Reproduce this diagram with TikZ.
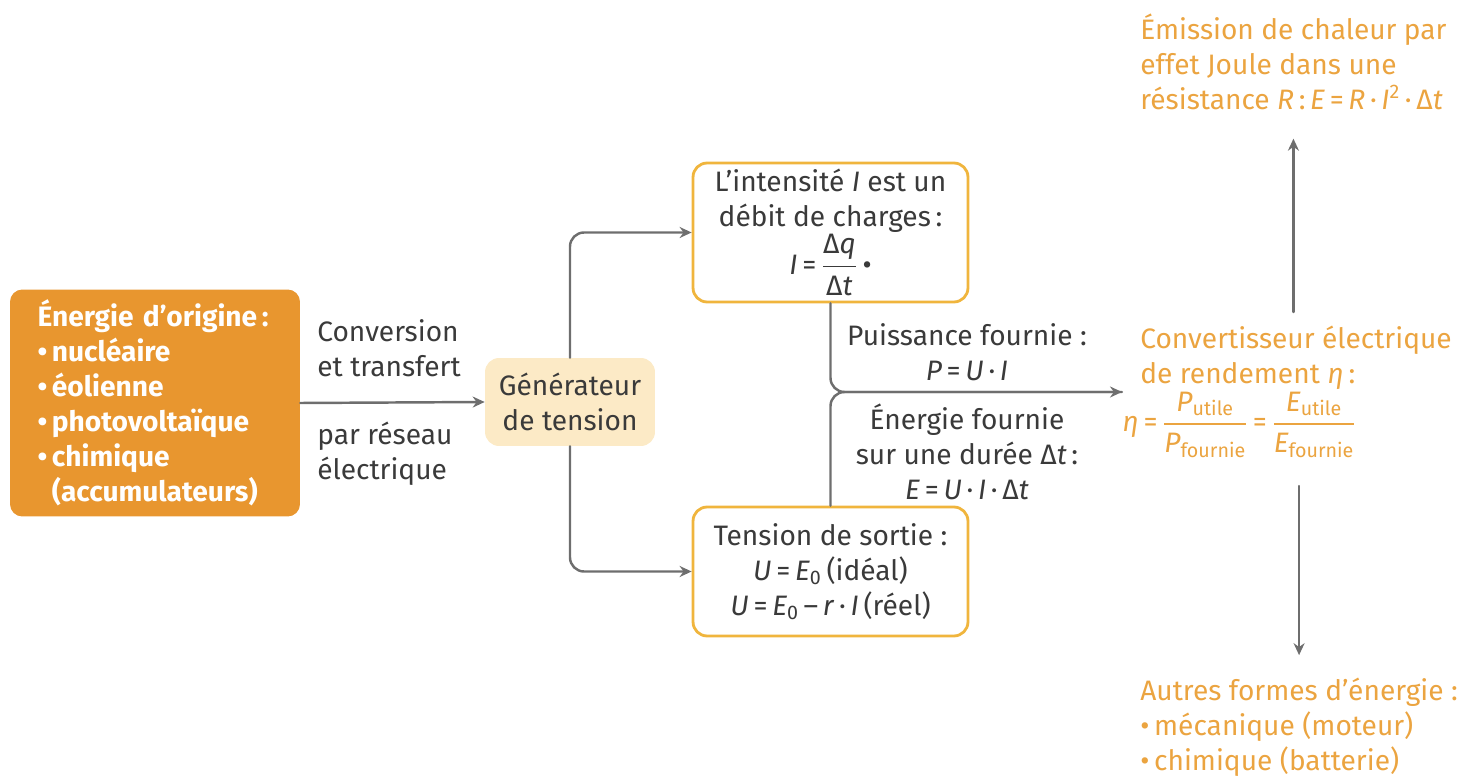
\documentclass[tikz,border=0pt]{standalone}
\usepackage{amsmath}
\usepackage{fontspec}
\setmainfont{Fira Sans}
\usetikzlibrary{arrows.meta}
\definecolor{srcorange}{HTML}{E8962F}
\definecolor{genbeige}{HTML}{FCEAC6}
\definecolor{boxyellow}{HTML}{F0B53D}
\definecolor{noteorange}{HTML}{EBA440}
\definecolor{txtgray}{HTML}{3A3A3A}
\definecolor{linegray}{HTML}{6E6E6E}
\newcommand{\vv}[1]{\textit{#1}}

\begin{document}
\begin{tikzpicture}[x=0.02cm,y=-0.02cm,>={Stealth[length=2.4mm,width=2.2mm]},line cap=round,
  font=\fontsize{16}{19.9}\selectfont,text=txtgray,
  srcbox/.style={fill=srcorange,text=white,font=\fontsize{16}{19.9}\selectfont\bfseries,rounded corners=7pt,
    align=left,minimum width=5.8cm,minimum height=4.54cm,text width=4.7cm},
  genbox/.style={fill=genbeige,rounded corners=8pt,align=center,minimum width=3.4cm,minimum height=1.76cm},
  infobox/.style={draw=boxyellow,line width=1.6pt,fill=white,rounded corners=8pt,align=center,minimum width=5.5cm},
  lbl/.style={align=center,inner sep=0pt},
  note/.style={text=noteorange,align=left,inner sep=0pt},
  wire/.style={draw=linegray,line width=1.4pt}]
\useasboundingbox (0,0) rectangle (1481,776);

% sources and generator
\node[srcbox] (src) at (155,403) {Énergie d’origine\,:\\
  •\,nucléaire\\ •\,éolienne\\ •\,photovoltaïque\\ •\,chimique\\ \phantom{•\,}(accumulateurs)};
\node[genbox] (gen) at (570,402) {Générateur\\de tension};
\node[lbl,align=left,anchor=west] (convtxt) at (317,348) {Conversion\\et transfert};
\node[lbl,align=left,anchor=west] (restxt) at (317,454) {par réseau\\électrique};

% intensity and voltage
\node[infobox,minimum height=2.78cm] (top) at (830.5,232.5) {L’intensité \vv{I} est un\\débit de charges\,:\\
  \vv{I}\,=\,$\dfrac{\text{Δ\vv{q}}}{\text{Δ\vv{t}}}$\,•};
\node[infobox,minimum height=2.58cm] (bot) at (830.5,571.5) {Tension de sortie :\\
  \vv{U}\,=\,\vv{E}\textsubscript{0}\,(idéal)\\ \vv{U}\,=\,\vv{E}\textsubscript{0}\,–\,\vv{r}\,·\,\vv{I}\,(réel)};
\node[lbl] (puis) at (967,352) {Puissance fournie :\\\vv{P}\,=\,\vv{U}\,·\,\vv{I}};
\node[lbl] (ener) at (967,452) {Énergie fournie\\sur une durée Δ\vv{t}\,:\\\vv{E}\,=\,\vv{U}\,·\,\vv{I}\,·\,Δ\vv{t}};

% converter side
\node[note,anchor=west] (conv) at (1122,392) {\hspace*{0.36cm}Convertisseur électrique\\
  \hspace*{0.36cm}de rendement \vv{η}\,:\\
  \vv{η}\,=\,$\dfrac{\text{\vv{P}}_{\text{utile}}}{\text{\vv{P}}_{\text{fournie}}}$\,=\,$\dfrac{\text{\vv{E}}_{\text{utile}}}{\text{\vv{E}}_{\text{fournie}}}$};
\node[note,anchor=north west] (joule) at (1140,14) {Émission de chaleur par\\effet Joule dans une\\
  résistance \vv{R}\,:\,\vv{E}\,=\,\vv{R}\,·\,\vv{I}\textsuperscript{2}\,·\,Δ\vv{t}};
\node[note,anchor=north west] (autres) at (1140,678) {Autres formes d’énergie :\\
  •\,mécanique (moteur)\\ •\,chimique (batterie)};

\draw[wire,->] (src.east) -- (gen.west);
\draw[wire,->,rounded corners=8pt] (gen.north) |- (top.west);
\draw[wire,->,rounded corners=8pt] (gen.south) |- (bot.west);
\draw[wire,->,rounded corners=8pt] (top.south) |- (conv.west);
\draw[wire,rounded corners=8pt] (bot.north) |- (conv.west);
\draw[wire,->,shorten <=8pt,shorten >=16pt] (conv.north -| joule.south) -- (joule.south);
\draw[wire,->,shorten <=16pt,shorten >=13pt] (conv.south -| autres.north) -- (autres.north);
\end{tikzpicture}
\end{document}
